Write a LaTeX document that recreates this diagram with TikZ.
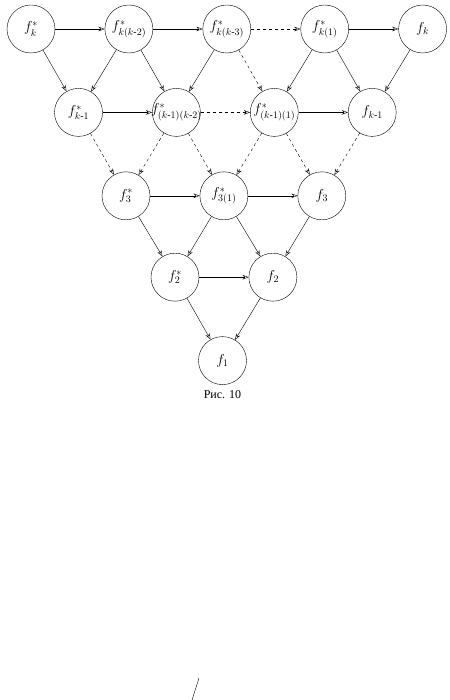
\documentclass[tikz,border=0pt,12pt]{standalone}
\usepackage{amsmath}
\usepackage{fontspec}
\setmainfont{Liberation Serif}
\usepackage{tikz}
\usetikzlibrary{arrows.meta, positioning}
\tikzstyle{vertex}    = [circle, draw=black, minimum size=48pt, inner sep=0pt, font=\large]
\tikzstyle{arrow}     = [-{Stealth[length=2.2mm, width=1.6mm, open]}, thin]
\tikzstyle{dasharrow} = [arrow, dashed]
\newcommand{\wide}[1]{\makebox[0pt]{#1}}

\begin{document}
\begin{tikzpicture}[x=1pt, y=-1pt, node distance=49.5pt]
    \useasboundingbox (0,0) rectangle (449,700);

    % Top row
    \node (fks)  [vertex] at (31,29) {$f^*_k$};
    \node (fk2)  [vertex, right=of fks] {\wide{$f^*_{k(k\text{-}2)}$}};
    \node (fk3)  [vertex, right=of fk2] {\wide{$f^*_{k(k\text{-}3)}$}};
    \node (fk1)  [vertex, right=of fk3] {$f^*_{k(1)}$};
    \node (fk)   [vertex, right=of fk1] {$f_k$};

    % Second row
    \node (fms)  [vertex, below=35pt of fks, xshift=47.5pt] {$f^*_{k\text{-}1}$};
    \node (fm2)  [vertex, right=of fms] {\wide{$f^*_{(k\text{-}1)(k\text{-}2)}$}};
    \node (fm1)  [vertex, right=of fm2] {\wide{$f^*_{(k\text{-}1)(1)}$}};
    \node (fm)   [vertex, right=of fm1] {$f_{k\text{-}1}$};

    % Third row
    \node (f3s)  [vertex, below=35pt of fms, xshift=47.5pt] {$f^*_3$};
    \node (f31)  [vertex, right=of f3s] {$f^*_{3(1)}$};
    \node (f3)   [vertex, right=of f31] {$f_3$};

    % Fourth row
    \node (f2s)  [vertex, below=33pt of f3s, xshift=49pt] {$f^*_2$};
    \node (f2)   [vertex, right=of f2s] {$f_2$};

    % Bottom
    \node (f1)   [vertex, below=35pt of f2s, xshift=47.5pt] {$f_1$};
    \node (caption) [below=2pt of f1, font=\normalsize] {Рис. 10};

    % Horizontal arrows
    \draw[arrow] (fks) -- (fk2);
    \draw[arrow] (fk2) -- (fk3);
    \draw[dasharrow] (fk3) -- (fk1);
    \draw[arrow] (fk1) -- (fk);
    \draw[arrow] (fms) -- (fm2);
    \draw[dasharrow] (fm2) -- (fm1);
    \draw[arrow] (fm1) -- (fm);
    \draw[arrow] (f3s) -- (f31);
    \draw[arrow] (f31) -- (f3);
    \draw[arrow] (f2s) -- (f2);

    % Top row to second row
    \draw[arrow] (fks) -- (fms);
    \draw[arrow] (fk2) -- (fms);
    \draw[arrow] (fk2) -- (fm2);
    \draw[arrow] (fk3) -- (fm2);
    \draw[dasharrow] (fk3) -- (fm1);
    \draw[arrow] (fk1) -- (fm1);
    \draw[arrow] (fk1) -- (fm);
    \draw[arrow] (fk) -- (fm);

    % Second row to third row
    \draw[dasharrow] (fms) -- (f3s);
    \draw[dasharrow] (fm2) -- (f3s);
    \draw[dasharrow] (fm2) -- (f31);
    \draw[dasharrow] (fm1) -- (f31);
    \draw[dasharrow] (fm1) -- (f3);
    \draw[dasharrow] (fm) -- (f3);

    % Third row down to f1
    \draw[arrow] (f3s) -- (f2s);
    \draw[arrow] (f31) -- (f2s);
    \draw[arrow] (f31) -- (f2);
    \draw[arrow] (f3) -- (f2);
    \draw[arrow] (f2s) -- (f1);
    \draw[arrow] (f2) -- (f1);

    % Stray stroke at the foot of the page
    \draw (192,700) -- (199,678);
\end{tikzpicture}
\end{document}
